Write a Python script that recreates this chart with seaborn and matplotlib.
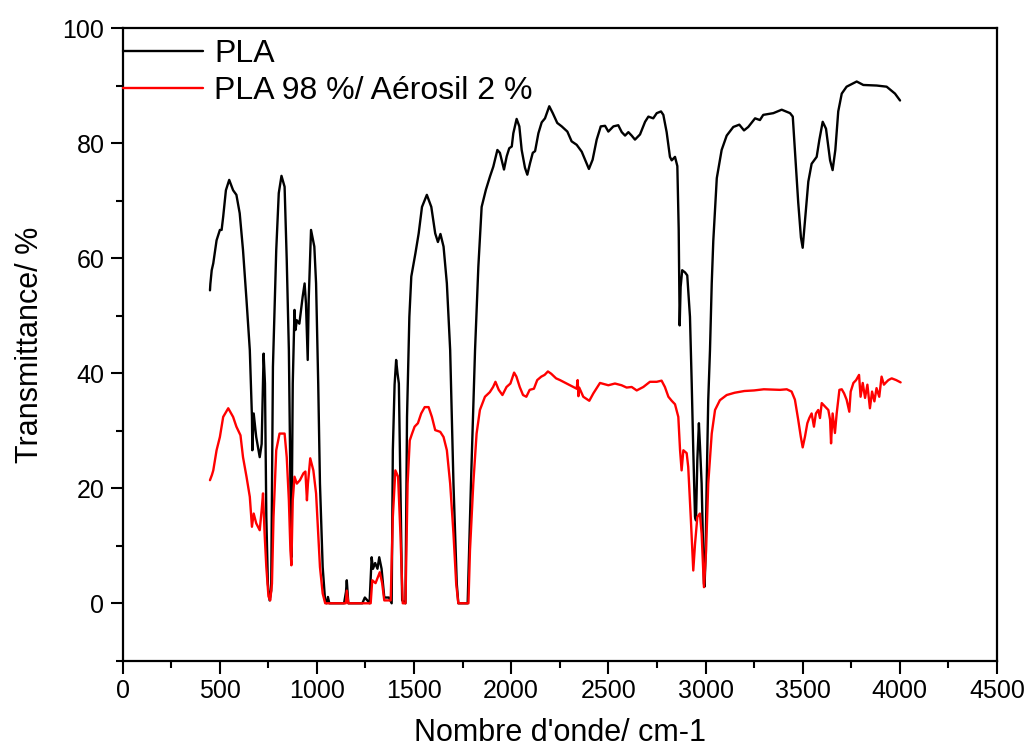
import numpy as np
import pandas as pd
import seaborn as sns
import matplotlib.pyplot as plt
from matplotlib.ticker import MultipleLocator

# %% data (wavenumber in cm-1, transmittance in %)
pla_wn = [450, 452, 459, 467, 484, 501, 510, 518, 532, 549, 569, 586, 603, 620, 638, 655,
          666, 668, 675, 688, 706, 716, 726, 733, 740, 748, 757, 765, 774, 791, 804, 818,
          834, 845, 856, 864, 869, 876, 885, 890, 897, 910, 927, 937, 944, 953, 958, 970,
          987, 996, 1007, 1016, 1030, 1043, 1050, 1057, 1064, 1071, 1140, 1150, 1154, 1158,
          1162, 1234, 1247, 1260, 1271, 1282, 1289, 1300, 1312, 1321, 1333, 1347, 1371, 1385,
          1391, 1400, 1408, 1415, 1422, 1430, 1439, 1456, 1464, 1476, 1486, 1507, 1524, 1541,
          1566, 1589, 1609, 1623, 1636, 1652, 1669, 1686, 1703, 1720, 1728, 1776, 1793, 1814,
          1831, 1848, 1870, 1891, 1908, 1929, 1942, 1963, 1977, 1990, 2003, 2011, 2028, 2042,
          2054, 2071, 2083, 2097, 2111, 2123, 2140, 2157, 2174, 2196, 2214, 2237, 2260, 2289,
          2311, 2337, 2363, 2380, 2400, 2419, 2440, 2461, 2483, 2500, 2526, 2551, 2569, 2586,
          2603, 2620, 2637, 2663, 2689, 2706, 2731, 2749, 2771, 2783, 2800, 2817, 2826, 2843,
          2855, 2862, 2867, 2872, 2880, 2895, 2906, 2920, 2929, 2937, 2946, 2951, 2958, 2966,
          2972, 2980, 2992, 2995, 3000, 3006, 3014, 3023, 3032, 3040, 3058, 3083, 3109, 3143,
          3174, 3198, 3220, 3255, 3280, 3297, 3349, 3392, 3435, 3449, 3460, 3477, 3491, 3500,
          3512, 3529, 3546, 3572, 3586, 3603, 3620, 3641, 3654, 3668, 3683, 3701, 3726, 3778,
          3812, 3881, 3932, 3975, 4001]
pla_t = [54.4, 55.5, 57.9, 59.1, 63.1, 64.9, 64.9, 67.2, 71.8, 73.6, 71.8, 71.0, 67.8, 61.4, 52.7, 44.0,
         32.4, 26.6, 33.0, 28.9, 25.4, 27.7, 43.4, 38.2, 15.0, 3.4, 0.5, 2.2, 41.1, 61.4, 71.3, 74.3,
         72.4, 59.7, 44.0, 20.8, 8.0, 38.2, 51.0, 47.5, 49.2, 48.6, 53.3, 55.6, 52.1, 42.3, 52.7, 64.9,
         62.0, 55.6, 38.2, 20.8, 6.3, 0.2, 0.0, 1.1, 0.0, 0.0, 0.0, 2.0, 4.0, 2.0,
         0.0, 0.0, 1.0, 0.5, 0.0, 8.0, 6.0, 7.0, 6.0, 8.0, 6.0, 1.0, 1.0, 0.0,
         26.6, 38.0, 42.3, 40.0, 38.2, 20.8, 0.5, 0.0, 32.4, 49.8, 56.8, 60.8, 64.3, 68.9,
         71.0, 68.9, 64.3, 62.8, 64.2, 62.0, 55.6, 44.0, 20.8, 3.4, 0.0, 0.0, 20.8, 44.0,
         58.5, 68.9, 71.9, 74.2, 75.9, 78.8, 78.3, 75.4, 77.7, 79.1, 79.4, 81.7, 84.2, 82.9,
         78.8, 75.7, 74.5, 76.5, 78.3, 78.6, 81.7, 83.6, 84.3, 86.4, 85.2, 83.5, 82.9, 82.0,
         80.3, 79.7, 78.5, 77.1, 75.5, 77.1, 80.6, 82.9, 83.0, 82.0, 82.9, 83.1, 81.9, 81.3,
         81.9, 81.3, 80.6, 81.5, 83.7, 84.6, 84.3, 85.2, 85.5, 84.9, 81.9, 77.6, 77.0, 77.6,
         76.0, 65.0, 48.3, 55.0, 57.9, 57.5, 57.0, 49.8, 38.2, 26.6, 15.0, 14.4, 25.0, 31.3,
         27.0, 20.8, 3.4, 2.9, 8.0, 20.8, 35.3, 44.0, 55.6, 63.0, 73.9, 78.8, 81.3, 82.8,
         83.2, 82.2, 82.8, 84.3, 84.0, 84.9, 85.2, 85.8, 85.2, 84.6, 78.8, 69.7, 63.6, 61.8,
         66.6, 73.3, 76.4, 77.6, 80.6, 83.7, 82.5, 77.0, 75.3, 78.8, 85.5, 88.6, 89.8, 90.7,
         90.1, 90.0, 89.8, 88.6, 87.4]

aer_wn = [450, 460, 467, 484, 501, 518, 544, 569, 586, 607, 620, 638, 655, 666, 675, 688,
          706, 716, 723, 731, 740, 751, 760, 769, 777, 791, 808, 834, 845, 856, 864, 869,
          876, 885, 897, 913, 931, 941, 949, 954, 966, 982, 996, 1007, 1016, 1030, 1043, 1149,
          1154, 1162, 1277, 1285, 1302, 1324, 1336, 1347, 1380, 1391, 1404, 1418, 1430, 1442,
          1456, 1467, 1478, 1490, 1503, 1520, 1537, 1555, 1575, 1592, 1609, 1635, 1652, 1669,
          1686, 1703, 1717, 1728, 1780, 1788, 1805, 1822, 1839, 1865, 1890, 1907, 1919, 1936,
          1955, 1976, 1996, 2015, 2027, 2044, 2061, 2078, 2095, 2117, 2134, 2155, 2172, 2189,
          2206, 2231, 2251, 2303, 2337, 2342, 2346, 2350, 2371, 2402, 2423, 2457, 2500, 2534,
          2568, 2594, 2620, 2646, 2680, 2714, 2749, 2774, 2791, 2809, 2826, 2843, 2860, 2869,
          2877, 2886, 2903, 2911, 2924, 2937, 2946, 2958, 2971, 2980, 2992, 3003, 3014, 3032,
          3049, 3074, 3109, 3150, 3200, 3250, 3300, 3383, 3418, 3443, 3460, 3477, 3490, 3500,
          3512, 3524, 3534, 3546, 3558, 3568, 3580, 3589, 3598, 3615, 3632, 3641, 3646, 3654,
          3666, 3675, 3689, 3701, 3713, 3726, 3740, 3747, 3761, 3775, 3790, 3798, 3809, 3821,
          3833, 3846, 3857, 3869, 3880, 3894, 3906, 3918, 3929, 3941, 3958, 3981, 4004]
aer_t = [21.4, 22.3, 23.1, 26.6, 28.9, 32.4, 33.9, 32.4, 30.7, 29.2, 25.4, 22.0, 18.5, 13.3, 15.6, 13.9,
         12.7, 16.2, 19.1, 12.2, 6.3, 1.2, 0.5, 3.4, 15.0, 26.6, 29.5, 29.5, 25.4, 17.9, 9.2, 6.6,
         17.9, 22.0, 20.8, 21.4, 22.6, 22.9, 17.9, 20.8, 25.2, 23.1, 19.1, 12.2, 6.3, 1.7, 0.0, 0.0,
         2.2, 0.0, 0.0, 4.0, 3.5, 5.4, 3.5, 0.5, 0.5, 15.0, 23.1, 22.0, 12.1, 0.0,
         0.0, 20.8, 28.3, 29.5, 30.7, 31.3, 33.0, 34.1, 34.1, 32.4, 30.1, 29.8, 28.9, 26.6,
         20.8, 12.1, 3.4, 0.0, 0.0, 9.2, 20.8, 29.5, 33.6, 35.9, 36.7, 37.6, 38.5, 37.1,
         36.2, 37.6, 38.2, 40.1, 39.4, 37.6, 36.2, 35.9, 37.1, 37.3, 38.8, 39.4, 39.7, 40.3,
         39.9, 39.1, 38.8, 37.9, 37.3, 38.8, 36.0, 37.5, 35.9, 35.2, 36.5, 38.3, 37.9, 38.2,
         37.9, 37.5, 37.6, 37.0, 37.6, 38.5, 38.5, 38.7, 37.6, 35.9, 35.2, 34.6, 32.4, 26.6,
         23.1, 26.6, 26.1, 23.7, 15.0, 5.7, 10.3, 15.0, 15.6, 12.1, 2.8, 9.2, 20.8, 29.5,
         33.6, 35.3, 36.2, 36.6, 36.9, 37.0, 37.2, 37.1, 37.2, 36.8, 35.4, 31.9, 29.0, 27.1,
         29.0, 31.3, 32.2, 33.0, 30.7, 33.0, 33.6, 32.2, 34.8, 34.2, 33.6, 31.9, 27.8, 33.0,
         29.6, 33.0, 37.1, 37.2, 36.5, 35.4, 33.3, 36.8, 38.3, 38.8, 39.7, 35.9, 38.3, 35.7,
         38.0, 33.9, 36.8, 35.1, 37.4, 35.9, 39.4, 38.0, 38.4, 38.8, 39.1, 38.8, 38.4]

labels = ['PLA', 'PLA 98 %/ Aérosil 2 %']
colors = ['black', 'red']

df = pd.concat([pd.DataFrame({'wn': pla_wn, 't': pla_t, 'sample': labels[0]}),
                pd.DataFrame({'wn': aer_wn, 't': aer_t, 'sample': labels[1]})],
               ignore_index=True)

# %% plot
sns.set_style('ticks')
plt.rcParams['font.family'] = ['Liberation Sans', 'DejaVu Sans']
plt.rcParams.update({'text.color': 'black', 'axes.labelcolor': 'black',
                     'xtick.color': 'black', 'ytick.color': 'black',
                     'axes.edgecolor': 'black'})

fig = plt.figure(figsize=(10.27, 7.51), dpi=100)
ax = fig.add_axes([0.1193, 0.1201, 0.8515, 0.8426])

sns.lineplot(data=df, x='wn', y='t', hue='sample', palette=dict(zip(labels, colors)),
             sort=False, estimator=None, lw=1.7, ax=ax)

ax.set_xlim(0, 4500)
ax.set_ylim(-10, 100)
ax.xaxis.set_major_locator(MultipleLocator(500))
ax.xaxis.set_minor_locator(MultipleLocator(250))
ax.yaxis.set_major_locator(MultipleLocator(20))
ax.yaxis.set_minor_locator(MultipleLocator(10))

for s in ax.spines.values():
    s.set_linewidth(1.6)
    s.set_color('black')
ax.tick_params(which='major', direction='out', length=9, width=1.5, labelsize=18,
               pad=4, colors='black',
               labelfontfamily=['Liberation Sans Narrow', 'Liberation Sans'])
ax.tick_params(which='minor', direction='out', length=5, width=1.5, colors='black')
ax.tick_params(top=False, right=False, which='both')

ax.set_xlabel("Nombre d'onde/ cm-1", fontsize=22, labelpad=11, color='black')
ax.set_ylabel('Transmittance/ %', fontsize=22, labelpad=13, color='black')

sns.move_legend(ax, 'upper left', bbox_to_anchor=(0, 0.982), title=None, frameon=False,
                fontsize=23, handlelength=2.52, handletextpad=0.34, borderpad=0,
                borderaxespad=0, labelspacing=0.2)
for txt in ax.get_legend().get_texts():
    txt.set_color('black')

plt.savefig('out.png', dpi=100)
